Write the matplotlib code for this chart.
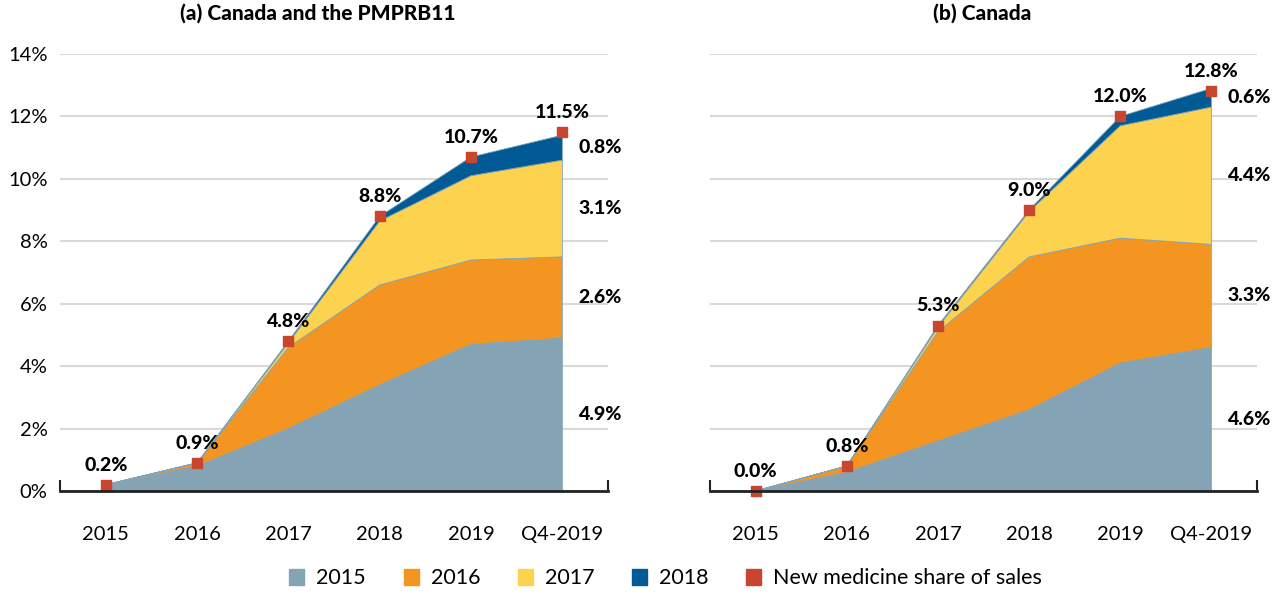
import numpy as np
import matplotlib.pyplot as plt
from matplotlib.patches import Patch

plt.rcParams['font.family'] = ['Lato', 'DejaVu Sans']

periods = ['2015', '2016', '2017', '2018', '2019', 'Q4-2019']
series_names = ['2015', '2016', '2017', '2018']
colors = ['#84a3b5', '#f49522', '#fcd24f', '#005a96']
marker_color = '#c8462e'

# (a) Canada and the PMPRB11 - share of sales by launch year (%)
a_2015 = [0.2, 0.8, 2.0, 3.4, 4.7, 4.9]
a_2016 = [0.0, 0.1, 2.6, 3.2, 2.7, 2.6]
a_2017 = [0.0, 0.0, 0.15, 2.05, 2.7, 3.1]
a_2018 = [0.0, 0.0, 0.05, 0.15, 0.6, 0.8]
a_total = [0.2, 0.9, 4.8, 8.8, 10.7, 11.5]

# (b) Canada
b_2015 = [0.0, 0.6, 1.6, 2.6, 4.1, 4.6]
b_2016 = [0.0, 0.2, 3.5, 4.9, 4.0, 3.3]
b_2017 = [0.0, 0.0, 0.15, 1.45, 3.6, 4.4]
b_2018 = [0.0, 0.0, 0.05, 0.05, 0.3, 0.6]
b_total = [0.0, 0.8, 5.3, 9.0, 12.0, 12.8]

fig = plt.figure(figsize=(12.8, 5.95), dpi=100)
ax1 = fig.add_axes([0.047, 0.1748, 0.428, 0.7345])
ax2 = fig.add_axes([0.5547, 0.1748, 0.4273, 0.7345])


def draw(ax, layers, total):
    x = np.arange(len(periods))
    ax.stackplot(x, *layers, colors=colors, edgecolor=colors, linewidth=0.6, zorder=2)
    ax.scatter(x, total, marker='s', s=55, color=marker_color, zorder=4, clip_on=False)
    for xi, t in zip(x, total):
        ax.annotate(f'{t:.1f}%', (xi, t), xytext=(0, 8), textcoords='offset points',
                    ha='center', va='bottom', fontsize=14, fontweight='black')
    # labels for last column
    base = 0
    for v in [l[-1] for l in layers]:
        ax.text(x[-1] + 0.18, base + v / 2, f'{v:.1f}%', ha='left', va='center',
                fontsize=14, fontweight='black')
        base += v
    ax.set_xlim(-0.5, 5.5)
    ax.set_ylim(0, 14)
    ax.set_yticks(np.arange(0, 15, 2))
    ax.yaxis.grid(True, color='#d9d9d9', linewidth=1.5, zorder=0)
    ax.set_axisbelow(True)
    ax.set_xticks(x)
    ax.set_xticklabels(periods, fontsize=14.5)
    ax.set_xticks(np.arange(-0.5, 6, 1), minor=True)
    ax.tick_params(axis='x', which='major', length=0, pad=25)
    ax.tick_params(axis='x', which='minor', direction='in', length=8, width=1.5, color='#222222')
    ax.tick_params(axis='y', length=0, pad=9, labelsize=14.5)
    for s in ['top', 'right', 'left']:
        ax.spines[s].set_visible(False)
    ax.spines['bottom'].set_linewidth(2)
    ax.spines['bottom'].set_color('#222222')
    ax.spines['bottom'].set_zorder(5)


draw(ax1, [a_2015, a_2016, a_2017, a_2018], a_total)
draw(ax2, [b_2015, b_2016, b_2017, b_2018], b_total)

ax1.set_yticklabels([f'{v}%' for v in range(0, 15, 2)])
ax2.set_yticklabels([])

fig.text(0.248, 0.978, '(a) Canada and the PMPRB11', ha='center', va='center',
         fontsize=15, fontweight='black')
fig.text(0.767, 0.978, '(b) Canada', ha='center', va='center',
         fontsize=15, fontweight='black')

handles = [Patch(color=c) for c in colors] + [Patch(color=marker_color)]
labels = series_names + ['New medicine share of sales']
fig.legend(handles, labels, loc='center', bbox_to_anchor=(0.52, 0.028), ncol=5,
           frameon=False, handlelength=0.7, handleheight=0.75,
           columnspacing=1.75, handletextpad=0.55, prop={'size': 15.5})

fig.savefig('out.png', dpi=100)
